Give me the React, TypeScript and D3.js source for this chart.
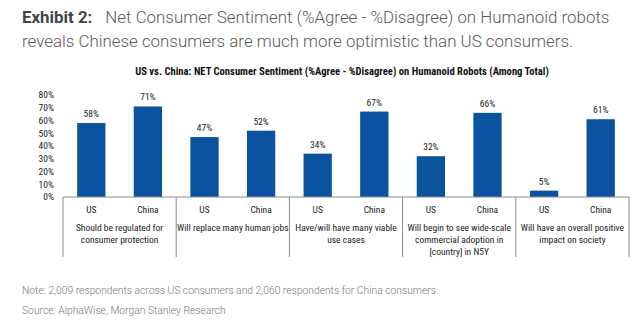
import React from "react";
import * as d3 from "d3";

// Net sentiment (%Agree - %Disagree) by statement and country
const categories = [
  "Should be regulated for consumer protection",
  "Will replace many human jobs",
  "Have/will have many viable use cases",
  "Will begin to see wide-scale commercial adoption in [country] in N5Y",
  "Will have an overall positive impact on society",
];
const categoryLines = [
  ["Should be regulated for", "consumer protection"],
  ["Will replace many human jobs"],
  ["Have/will have many viable", "use cases"],
  ["Will begin to see wide-scale", "commercial adoption in", "[country] in N5Y"],
  ["Will have an overall positive", "impact on society"],
];
const seriesNames = ["US", "China"];
const usValues = [58, 47, 34, 32, 5];
const chinaValues = [71, 52, 67, 66, 61];
const yTicks = [0, 10, 20, 30, 40, 50, 60, 70, 80];

const W = 640;
const H = 326;
const BLUE = "#0b539f";
const CHART_FONT = "'Liberation Sans Narrow', 'Roboto Condensed', Roboto, sans-serif";
const BODY_FONT = "Roboto, 'Noto Sans', sans-serif";

export default function App() {
  const x0 = d3.scaleBand<string>().domain(categories).range([63, 629]).padding(0);
  const x1 = d3
    .scaleBand<string>()
    .domain(seriesNames)
    .range([0, x0.bandwidth()])
    .paddingInner(0.5)
    .paddingOuter(0.25);
  const y = d3.scaleLinear().domain([0, 80]).range([197, 95]);
  const base = y(0);
  const boxBottom = 257;

  const values = [usValues, chinaValues];

  return (
    <svg
      width={W}
      height={H}
      style={{ position: "absolute", left: 0, top: 0, background: "#fff" }}
    >
      {/* Exhibit heading */}
      <text x={22} y={23} fontFamily={BODY_FONT} fontSize={16.9} fill="#5a5a5a" fontWeight={300}>
        <tspan fontWeight={700} fill="#444">Exhibit 2:</tspan>
        <tspan dx={13}>Net Consumer Sentiment (%Agree - %Disagree) on Humanoid robots</tspan>
      </text>
      <text x={22} y={47} fontFamily={BODY_FONT} fontSize={16.9} fill="#5a5a5a" fontWeight={300}>
        reveals Chinese consumers are much more optimistic than US consumers.
      </text>

      {/* Chart title */}
      <text
        x={342}
        y={75}
        textAnchor="middle"
        fontFamily={CHART_FONT}
        fontSize={10.6}
        fontWeight={700}
        fill="#111"
      >
        US vs. China: NET Consumer Sentiment (%Agree - %Disagree) on Humanoid Robots (Among Total)
      </text>

      {/* Y tick labels */}
      {yTicks.map((t) => (
        <text
          key={t}
          x={54}
          y={y(t)}
          dy="0.35em"
          textAnchor="end"
          fontFamily={CHART_FONT}
          fontSize={9.5}
          fill="#222"
        >
          {t}%
        </text>
      ))}

      {/* Bars and value labels */}
      {categories.map((c, ci) =>
        seriesNames.map((s, si) => {
          const v = values[si][ci];
          const bx = (x0(c) as number) + (x1(s) as number);
          return (
            <g key={c + s}>
              <rect x={bx} y={y(v)} width={x1.bandwidth()} height={base - y(v)} fill={BLUE} />
              <text
                x={bx + x1.bandwidth() / 2}
                y={y(v) - 6}
                textAnchor="middle"
                fontFamily={CHART_FONT}
                fontSize={9.5}
                fill="#222"
              >
                {v}%
              </text>
            </g>
          );
        })
      )}

      {/* Category box */}
      <line x1={x0.range()[0]} x2={x0.range()[1]} y1={base} y2={base} stroke="#8a8a8a" strokeWidth={1} />
      {[...categories.map((c) => x0(c) as number), x0.range()[1]].map((xv, i) => (
        <line key={i} x1={xv} x2={xv} y1={base} y2={boxBottom} stroke="#8a8a8a" strokeWidth={1} />
      ))}

      {/* Series and category labels */}
      {categories.map((c, ci) => (
        <g key={c}>
          {seriesNames.map((s) => (
            <text
              key={s}
              x={(x0(c) as number) + (x1(s) as number) + x1.bandwidth() / 2}
              y={210}
              dy="0.35em"
              textAnchor="middle"
              fontFamily={CHART_FONT}
              fontSize={9.5}
              fill="#222"
            >
              {s}
            </text>
          ))}
          {categoryLines[ci].map((ln, li) => (
            <text
              key={li}
              x={(x0(c) as number) + x0.bandwidth() / 2}
              y={228 + li * 12}
              dy="0.35em"
              textAnchor="middle"
              fontFamily={CHART_FONT}
              fontSize={9.5}
              fill="#222"
            >
              {ln}
            </text>
          ))}
        </g>
      ))}

      {/* Footnotes */}
      <text x={22} y={294} fontFamily={BODY_FONT} fontSize={10.3} fontWeight={300} fill="#777">
        Note: 2,009 respondents across US consumers and 2,060 respondents for China consumers.
      </text>
      <text x={22} y={314} fontFamily={BODY_FONT} fontSize={10.3} fontWeight={300} fill="#777">
        Source: AlphaWise, Morgan Stanley Research
      </text>
    </svg>
  );
}
